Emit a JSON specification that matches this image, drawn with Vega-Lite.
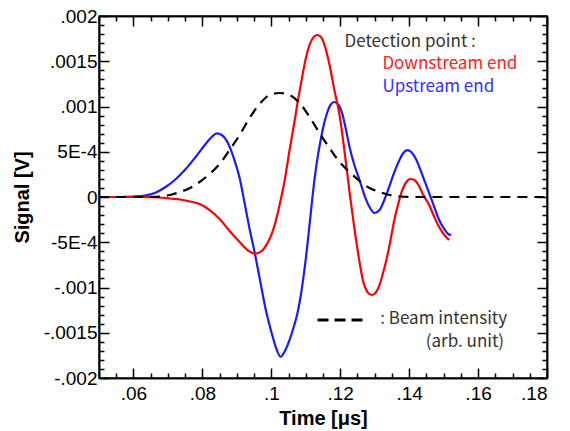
{
  "$schema": "https://vega.github.io/schema/vega-lite/v6.json",
  "width": 448,
  "height": 362,
  "autosize": "none",
  "padding": {"left": 99, "top": 16, "right": 23, "bottom": 53},
  "background": "white",
  "config": {
    "view": {"stroke": "#222222", "strokeWidth": 1.5},
    "axis": {"grid": false, "labelFont": "Liberation Sans", "labelFontSize": 19, "labelColor": "#000000", "titleFont": "Liberation Sans", "titleFontSize": 20, "titleFontWeight": "bold", "titleColor": "#000000"}
  },
  "datasets": {
    "upstream": [
      {"t": 0.05, "v": 0}, {"t": 0.0561, "v": 0}, {"t": 0.0598, "v": 0.0000055}, {"t": 0.0633, "v": 0.0000166}, {"t": 0.0662, "v": 0.0000442}, {"t": 0.0691, "v": 0.000105}, {"t": 0.072, "v": 0.000188}, {"t": 0.0749, "v": 0.000298}, {"t": 0.0778, "v": 0.000431}, {"t": 0.0807, "v": 0.000575}, {"t": 0.0827, "v": 0.000663}, {"t": 0.0842, "v": 0.000702}, {"t": 0.0856, "v": 0.000685}, {"t": 0.0874, "v": 0.000597}, {"t": 0.0891, "v": 0.000431}, {"t": 0.0908, "v": 0.00021}, {"t": 0.0923, "v": -0.000077}, {"t": 0.0937, "v": -0.000354}, {"t": 0.0952, "v": -0.000619}, {"t": 0.0966, "v": -0.000895}, {"t": 0.0986, "v": -0.001282}, {"t": 0.1001, "v": -0.001503}, {"t": 0.1013, "v": -0.001658}, {"t": 0.1027, "v": -0.001765}, {"t": 0.1041, "v": -0.001691}, {"t": 0.1053, "v": -0.00158}, {"t": 0.1065, "v": -0.001437}, {"t": 0.1076, "v": -0.001282}, {"t": 0.1088, "v": -0.001028}, {"t": 0.1099, "v": -0.000718}, {"t": 0.1111, "v": -0.000309}, {"t": 0.112, "v": 0.000022}, {"t": 0.1131, "v": 0.000354}, {"t": 0.1146, "v": 0.000685}, {"t": 0.116, "v": 0.000906}, {"t": 0.1172, "v": 0.001017}, {"t": 0.1183, "v": 0.00105}, {"t": 0.1195, "v": 0.001017}, {"t": 0.1207, "v": 0.000906}, {"t": 0.1218, "v": 0.000718}, {"t": 0.1227, "v": 0.000553}, {"t": 0.1241, "v": 0.000354}, {"t": 0.1256, "v": 0.000188}, {"t": 0.127, "v": 0.000022}, {"t": 0.1285, "v": -0.000111}, {"t": 0.1299, "v": -0.000177}, {"t": 0.1314, "v": -0.000144}, {"t": 0.1328, "v": -0.000033}, {"t": 0.1343, "v": 0.000122}, {"t": 0.1357, "v": 0.000276}, {"t": 0.1372, "v": 0.000409}, {"t": 0.1383, "v": 0.000486}, {"t": 0.1395, "v": 0.000519}, {"t": 0.1406, "v": 0.000497}, {"t": 0.1421, "v": 0.000409}, {"t": 0.1435, "v": 0.000276}, {"t": 0.1447, "v": 0.000155}, {"t": 0.1458, "v": 0.000044}, {"t": 0.1473, "v": -0.000111}, {"t": 0.1487, "v": -0.000254}, {"t": 0.1502, "v": -0.000354}, {"t": 0.1513, "v": -0.000409}, {"t": 0.1522, "v": -0.00042}
    ],
    "downstream": [
      {"t": 0.05, "v": 0}, {"t": 0.0619, "v": 0}, {"t": 0.0648, "v": -0.000002}, {"t": 0.0677, "v": -0.0000055}, {"t": 0.0706, "v": -0.0000166}, {"t": 0.0735, "v": -0.0000276}, {"t": 0.0764, "v": -0.0000497}, {"t": 0.0792, "v": -0.0000773}, {"t": 0.0821, "v": -0.000144}, {"t": 0.085, "v": -0.000243}, {"t": 0.0879, "v": -0.000376}, {"t": 0.0908, "v": -0.000497}, {"t": 0.0931, "v": -0.000586}, {"t": 0.0952, "v": -0.000625}, {"t": 0.0972, "v": -0.000597}, {"t": 0.0989, "v": -0.000508}, {"t": 0.1001, "v": -0.000409}, {"t": 0.1013, "v": -0.000265}, {"t": 0.1024, "v": -0.0000884}, {"t": 0.1039, "v": 0.000188}, {"t": 0.1053, "v": 0.000519}, {"t": 0.1068, "v": 0.000851}, {"t": 0.1076, "v": 0.001039}, {"t": 0.1088, "v": 0.001293}, {"t": 0.1099, "v": 0.001514}, {"t": 0.1111, "v": 0.00168}, {"t": 0.1123, "v": 0.001768}, {"t": 0.1134, "v": 0.00179}, {"t": 0.1146, "v": 0.001757}, {"t": 0.1157, "v": 0.001646}, {"t": 0.1169, "v": 0.001459}, {"t": 0.1183, "v": 0.001182}, {"t": 0.1198, "v": 0.000906}, {"t": 0.1212, "v": 0.000519}, {"t": 0.1227, "v": 0.000055}, {"t": 0.1241, "v": -0.000343}, {"t": 0.1256, "v": -0.000718}, {"t": 0.1267, "v": -0.000939}, {"t": 0.1279, "v": -0.00105}, {"t": 0.1291, "v": -0.001083}, {"t": 0.1302, "v": -0.001061}, {"t": 0.1314, "v": -0.000972}, {"t": 0.1325, "v": -0.000829}, {"t": 0.1334, "v": -0.000696}, {"t": 0.1346, "v": -0.000475}, {"t": 0.1357, "v": -0.000254}, {"t": 0.1369, "v": -0.000066}, {"t": 0.138, "v": 0.000077}, {"t": 0.1392, "v": 0.000166}, {"t": 0.1403, "v": 0.000199}, {"t": 0.1415, "v": 0.000188}, {"t": 0.1427, "v": 0.000133}, {"t": 0.1441, "v": 0.000022}, {"t": 0.1458, "v": -0.000088}, {"t": 0.1473, "v": -0.000221}, {"t": 0.1487, "v": -0.000332}, {"t": 0.1502, "v": -0.00042}, {"t": 0.1516, "v": -0.000475}
    ],
    "beam": [
      {"t": 0.05, "v": 0}, {"t": 0.0648, "v": 0}, {"t": 0.0677, "v": 0.0000055}, {"t": 0.0706, "v": 0.000022}, {"t": 0.0735, "v": 0.000055}, {"t": 0.0764, "v": 0.0000995}, {"t": 0.0792, "v": 0.000166}, {"t": 0.0821, "v": 0.000254}, {"t": 0.085, "v": 0.000365}, {"t": 0.0879, "v": 0.00052}, {"t": 0.0908, "v": 0.000685}, {"t": 0.0937, "v": 0.000873}, {"t": 0.0966, "v": 0.001028}, {"t": 0.0995, "v": 0.001127}, {"t": 0.1024, "v": 0.001149}, {"t": 0.1053, "v": 0.001127}, {"t": 0.1082, "v": 0.001039}, {"t": 0.1111, "v": 0.000884}, {"t": 0.114, "v": 0.000707}, {"t": 0.1169, "v": 0.000541}, {"t": 0.1198, "v": 0.000387}, {"t": 0.1227, "v": 0.000276}, {"t": 0.1256, "v": 0.000177}, {"t": 0.1285, "v": 0.0000995}, {"t": 0.1314, "v": 0.000055}, {"t": 0.1343, "v": 0.000022}, {"t": 0.1372, "v": 0.0000055}, {"t": 0.1429, "v": 0}, {"t": 0.18, "v": 0}
    ],
    "notesLeft": [
      {"t": 0.12123, "v": 0.00171, "label": "Detection point :", "kind": "note"},
      {"t": 0.13223, "v": 0.00147, "label": "Downstream end", "kind": "down"},
      {"t": 0.13223, "v": 0.00122, "label": "Upstream end", "kind": "up"}
    ],
    "notesRight": [
      {"t": 0.16842, "v": -0.00135, "label": ": Beam intensity"},
      {"t": 0.16755, "v": -0.0016, "label": "(arb. unit)"}
    ],
    "legendDash": [
      {"t": 0.11341, "t2": 0.12702, "v": -0.00136}
    ]
  },
  "resolve": {"scale": {"x": "independent", "y": "independent"}, "axis": {"x": "independent", "y": "independent"}},
  "layer": [
    {
      "data": {"name": "upstream"},
      "mark": {"type": "line", "color": "#1a1aff", "strokeWidth": 2.2, "interpolate": "monotone"},
      "encoding": {
        "x": {"field": "t", "type": "quantitative", "scale": {"domain": [0.05, 0.18], "nice": false, "zero": false},
          "axis": {"orient": "bottom", "values": [0.06, 0.08, 0.1, 0.12, 0.14, 0.16, 0.18], "tickSize": -10, "tickColor": "black", "tickWidth": 1.5, "domainColor": "black", "domainWidth": 1.5, "labelPadding": 16, "labelExpr": "slice(format(datum.value, '.2~f'), 1)", "title": "Time [μs]", "titlePadding": 5}},
        "y": {"field": "v", "type": "quantitative", "scale": {"domain": [-0.002, 0.002], "nice": false, "zero": false},
          "axis": {"orient": "left", "values": [-0.002, -0.0015, -0.001, -0.0005, 0, 0.0005, 0.001, 0.0015, 0.002], "tickSize": -10, "tickColor": "black", "tickWidth": 1.5, "domainColor": "black", "domainWidth": 1.5, "labelPadding": 12, "labelExpr": "datum.value == 0 ? '0' : (abs(datum.value) == 0.0005 ? (datum.value < 0 ? '-5E-4' : '5E-4') : ((datum.value < 0 ? '-' : '') + slice(format(abs(datum.value), '.4~f'), 1)))", "title": "Signal [V]", "titlePadding": 11}}
      }
    },
    {
      "data": {"name": "downstream"},
      "mark": {"type": "line", "color": "#ff0000", "strokeWidth": 2.2, "interpolate": "monotone"},
      "encoding": {
        "x": {"field": "t", "type": "quantitative", "scale": {"domain": [0.05, 0.18], "nice": false, "zero": false},
          "axis": {"orient": "bottom", "values": [0.05, 0.055, 0.065, 0.07, 0.075, 0.085, 0.09, 0.095, 0.105, 0.11, 0.115, 0.125, 0.13, 0.135, 0.145, 0.15, 0.155, 0.165, 0.17, 0.175], "labelExpr": "''", "domainColor": "black", "domainWidth": 1.5, "tickSize": -5, "tickColor": "black", "tickWidth": 1.5, "title": null}},
        "y": {"field": "v", "type": "quantitative", "scale": {"domain": [-0.002, 0.002], "nice": false, "zero": false},
          "axis": {"orient": "left", "values": [-0.0019, -0.0018, -0.0017, -0.0016, -0.0014, -0.0013, -0.0012, -0.0011, -0.0009, -0.0008, -0.0007, -0.0006, -0.0004, -0.0003, -0.0002, -0.0001, 0.0001, 0.0002, 0.0003, 0.0004, 0.0006, 0.0007, 0.0008, 0.0009, 0.0011, 0.0012, 0.0013, 0.0014, 0.0016, 0.0017, 0.0018, 0.0019], "labelExpr": "''", "domainColor": "black", "domainWidth": 1.5, "tickSize": -5, "tickColor": "black", "tickWidth": 1.5, "title": null}}
      }
    },
    {
      "data": {"name": "beam"},
      "mark": {"type": "line", "color": "#000000", "strokeWidth": 2.2, "strokeDash": [10, 7], "interpolate": "monotone"},
      "encoding": {
        "x": {"field": "t", "type": "quantitative", "scale": {"domain": [0.05, 0.18], "nice": false, "zero": false},
          "axis": {"orient": "top", "values": [0.06, 0.08, 0.1, 0.12, 0.14, 0.16, 0.18], "labelExpr": "''", "domainColor": "black", "domainWidth": 1.5, "tickSize": -10, "tickColor": "black", "tickWidth": 1.5, "title": null}},
        "y": {"field": "v", "type": "quantitative", "scale": {"domain": [-0.002, 0.002], "nice": false, "zero": false},
          "axis": {"orient": "right", "values": [-0.002, -0.0015, -0.001, -0.0005, 0, 0.0005, 0.001, 0.0015, 0.002], "labelExpr": "''", "domainColor": "black", "domainWidth": 1.5, "tickSize": -10, "tickColor": "black", "tickWidth": 1.5, "title": null}}
      }
    },
    {
      "data": {"name": "notesLeft"},
      "mark": {"type": "text", "align": "left", "baseline": "middle", "font": "Noto Sans CJK JP", "fontSize": 17},
      "encoding": {
        "x": {"field": "t", "type": "quantitative", "scale": {"domain": [0.05, 0.18], "nice": false, "zero": false},
          "axis": {"orient": "top", "values": [0.05, 0.055, 0.065, 0.07, 0.075, 0.085, 0.09, 0.095, 0.105, 0.11, 0.115, 0.125, 0.13, 0.135, 0.145, 0.15, 0.155, 0.165, 0.17, 0.175], "labelExpr": "''", "domainColor": "black", "domainWidth": 1.5, "tickSize": -5, "tickColor": "black", "tickWidth": 1.5, "title": null}},
        "y": {"field": "v", "type": "quantitative", "scale": {"domain": [-0.002, 0.002], "nice": false, "zero": false},
          "axis": {"orient": "right", "values": [-0.0019, -0.0018, -0.0017, -0.0016, -0.0014, -0.0013, -0.0012, -0.0011, -0.0009, -0.0008, -0.0007, -0.0006, -0.0004, -0.0003, -0.0002, -0.0001, 0.0001, 0.0002, 0.0003, 0.0004, 0.0006, 0.0007, 0.0008, 0.0009, 0.0011, 0.0012, 0.0013, 0.0014, 0.0016, 0.0017, 0.0018, 0.0019], "labelExpr": "''", "domainColor": "black", "domainWidth": 1.5, "tickSize": -5, "tickColor": "black", "tickWidth": 1.5, "title": null}},
        "text": {"field": "label"},
        "color": {"field": "kind", "type": "nominal", "scale": {"domain": ["note", "down", "up"], "range": ["#333333", "#ff2020", "#3030ff"]}, "legend": null}
      }
    },
    {
      "data": {"name": "notesRight"},
      "mark": {"type": "text", "align": "right", "baseline": "middle", "font": "Noto Sans CJK JP", "fontSize": 17, "color": "#333333"},
      "encoding": {
        "x": {"field": "t", "type": "quantitative", "scale": {"domain": [0.05, 0.18], "nice": false, "zero": false}, "axis": null},
        "y": {"field": "v", "type": "quantitative", "scale": {"domain": [-0.002, 0.002], "nice": false, "zero": false}, "axis": null},
        "text": {"field": "label"}
      }
    },
    {
      "data": {"name": "legendDash"},
      "mark": {"type": "rule", "color": "#000000", "strokeWidth": 3, "strokeDash": [11, 6]},
      "encoding": {
        "x": {"field": "t", "type": "quantitative", "scale": {"domain": [0.05, 0.18], "nice": false, "zero": false}, "axis": null},
        "x2": {"field": "t2"},
        "y": {"field": "v", "type": "quantitative", "scale": {"domain": [-0.002, 0.002], "nice": false, "zero": false}, "axis": null}
      }
    }
  ]
}
